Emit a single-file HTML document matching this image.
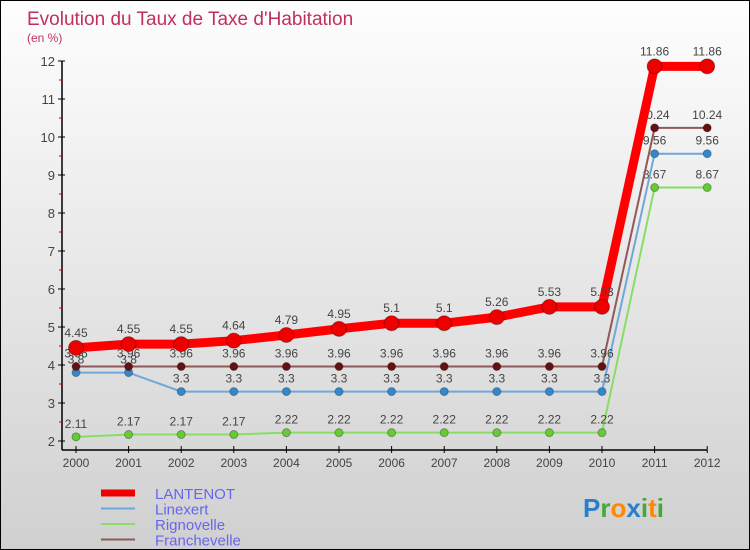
<!DOCTYPE html>
<html><head><meta charset="utf-8"><style>
body{margin:0}
#c{width:748px;height:548px;border:1px solid #000;position:relative;background:linear-gradient(#fefefe,#d0d0d0);font-family:"Liberation Sans",sans-serif;overflow:hidden}
svg{position:absolute;left:0;top:0}
</style></head><body>
<div id="c">
<svg id="s" width="748" height="548">
<text x="26" y="24" font-size="19" fill="#c0305a">Evolution du Taux de Taxe d'Habitation</text>
<text x="26" y="41" font-size="12" fill="#c0305a">(en %)</text>
</svg>
</div>
<script>
const years=["2000","2001","2002","2003","2004","2005","2006","2007","2008","2009","2010","2011","2012"];
const lantenot=[4.45,4.55,4.55,4.64,4.79,4.95,5.1,5.1,5.26,5.53,5.53,11.86,11.86];
const linexert=[3.8,3.8,3.3,3.3,3.3,3.3,3.3,3.3,3.3,3.3,3.3,9.56,9.56];
const rignovelle=[2.11,2.17,2.17,2.17,2.22,2.22,2.22,2.22,2.22,2.22,2.22,8.67,8.67];
const franchevelle=[3.96,3.96,3.96,3.96,3.96,3.96,3.96,3.96,3.96,3.96,3.96,10.24,10.24];
const yTicks=[2,3,4,5,6,7,8,9,10,11,12];
const NS="http://www.w3.org/2000/svg",s=document.getElementById('s');
const X=i=>75+i*52.6, Y=v=>440-(v-2)*38;
function el(t,a,p){const e=document.createElementNS(NS,t);for(const k in a)e.setAttribute(k,a[k]);(p||s).appendChild(e);return e;}
let ax=el('path',{d:`M61 ${Y(12)}V449M61 449H${X(12)}`,stroke:'#000','stroke-width':1.5,fill:'none'});


yTicks.forEach(v=>{
 el('line',{x1:57,x2:64,y1:Y(v),y2:Y(v),stroke:'#000'});
 if(v<12)el('line',{x1:58,x2:62,y1:Y(v+0.5),y2:Y(v+0.5),stroke:'#c00'});
 const t=el('text',{x:54,y:Y(v)+5,'font-size':13,fill:'#444','text-anchor':'end'});t.textContent=v;
 
 
});
years.forEach((y,i)=>{
 el('line',{x1:X(i),x2:X(i),y1:445,y2:452,stroke:'#000'});
 const t=el('text',{x:X(i),y:466,'font-size':12,fill:'#444','text-anchor':'middle'});t.textContent=y;
 
 
});
const series=[[rignovelle,'#88dd66','#66cc33',2,4,'rignovelle'],[linexert,'#6fa8d8','#3388cc',2,4,'linexert'],[franchevelle,'#905858','#661111',2,4,'franchevelle'],[lantenot,'#ff0000','#ee0000',9,7.5,'lantenot']];
series.forEach(([d,lc,pc,w,r,n])=>{
 const g=el('g',{});
 
 
 el('polyline',{points:d.map((v,i)=>X(i)+','+Y(v)).join(' '),fill:'none',stroke:lc,'stroke-width':w},g);
 d.forEach((v,i)=>{
  const c=el('circle',{cx:X(i),cy:Y(v),r:r,fill:pc,stroke:'rgba(0,0,0,0.3)'},g);
  
  
  const t=el('text',{x:X(i),y:Y(v)-(n=='lantenot'?11:9),'font-size':12,fill:'#444','text-anchor':'middle'},g);t.textContent=v;
 });
});
const leg=[['LANTENOT','#ee0000',7],['Linexert','#6fa8d8',2],['Rignovelle','#88dd66',2],['Franchevelle','#905858',2]];
leg.forEach(([n,c,w],i)=>{
 const g=el('g',{});
 
 
 const y=492+i*15.5;
 el('line',{x1:100,x2:134,y1:y,y2:y,stroke:c,'stroke-width':w},g);
 const t=el('text',{x:154,y:y+6,'font-size':15,fill:'#6666ee'},g);t.textContent=n;
});
const lg=el('text',{x:582,y:516,'font-size':26,'font-weight':'bold'});


[['P','#2a7fcc'],['r','#44aa33'],['o','#ff8800'],['x','#2a7fcc'],['i','#44aa33'],['t','#ff8800'],['i','#44aa33']].forEach(([ch,c])=>{el('tspan',{fill:c},lg).textContent=ch;});
</script>
</body></html>
